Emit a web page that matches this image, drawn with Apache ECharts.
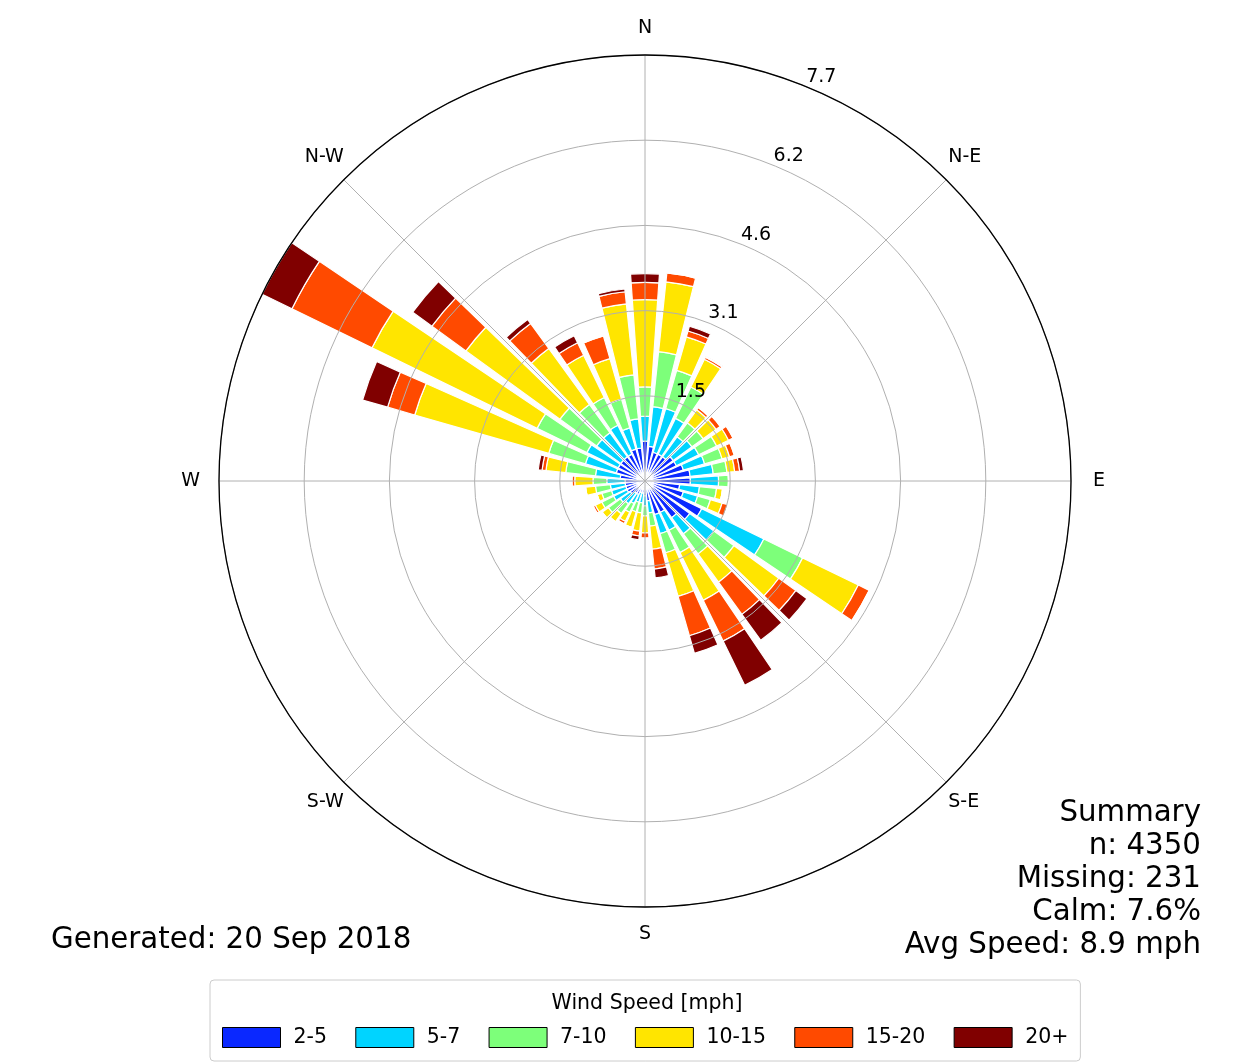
<!DOCTYPE html>
<html>
<head>
<meta charset="utf-8">
<script src="https://cdn.jsdelivr.net/npm/echarts@6/dist/echarts.min.js"></script>
<style>
html,body{margin:0;padding:0;background:#fff;}
#chart{width:1246px;height:1063px;}
</style>
</head>
<body>
<div id="chart"></div>
<script>
// 36 direction bins (degrees clockwise from north), bin centres
const directions = ['0','10','20','30','40','50','60','70','80','90','100','110','120','130','140','150','160','170',
  '180','190','200','210','220','230','240','250','260','270','280','290','300','310','320','330','340','350'];
const compassLabels = ['N','N-E','E','S-E','S','S-W','W','N-W'];
const speedBins = ['2-5','5-7','7-10','10-15','15-20','20+'];
const speedColors = ['#0a28ff','#00d4ff','#7dff7a','#ffe500','#ff4a00','#800000'];

// frequency (%) per direction for each speed bin
const s2_5   = [0.72,0.63,0.54,0.54,0.54,0.63,0.63,0.72,0.82,0.82,0.63,0.72,1.14,1.00,0.82,0.63,0.63,0.36,
                0.27,0.22,0.22,0.27,0.27,0.33,0.36,0.36,0.36,0.36,0.45,0.54,0.54,0.54,0.54,0.54,0.60,0.60];
const s5_7   = [0.45,0.72,0.82,0.72,0.45,0.42,0.45,0.40,0.42,0.51,0.36,0.27,1.25,0.54,0.36,0.36,0.36,0.22,
                0.18,0.18,0.18,0.18,0.24,0.22,0.27,0.27,0.27,0.33,0.45,0.58,0.63,0.54,0.54,0.58,0.40,0.53];
const s7_10  = [0.53,1.00,0.72,0.63,0.31,0.25,0.36,0.33,0.25,0.18,0.31,0.24,0.78,0.45,0.45,0.45,0.36,0.24,
                0.18,0.18,0.18,0.18,0.22,0.27,0.24,0.18,0.27,0.25,0.54,0.69,1.00,0.82,0.63,0.56,0.54,0.80];
const s10_15 = [1.58,1.27,0.63,0.56,0.29,0.29,0.24,0.14,0.14,0.00,0.11,0.22,1.12,1.00,0.63,0.96,0.82,0.42,
                0.31,0.33,0.29,0.18,0.18,0.14,0.13,0.09,0.18,0.33,0.36,2.52,3.32,2.10,1.25,0.85,0.76,1.29];
const s15_20 = [0.31,0.16,0.11,0.04,0.05,0.09,0.09,0.09,0.09,0.00,0.00,0.11,0.22,0.38,0.72,0.82,0.74,0.36,
                0.09,0.09,0.00,0.05,0.00,0.00,0.04,0.00,0.00,0.05,0.07,0.51,1.61,0.76,0.56,0.25,0.43,0.22];
const s20p   = [0.16,0.00,0.09,0.02,0.00,0.00,0.00,0.00,0.07,0.00,0.00,0.00,0.00,0.25,0.58,0.89,0.33,0.16,
                0.00,0.07,0.00,0.00,0.00,0.00,0.00,0.00,0.00,0.00,0.07,0.47,0.60,0.43,0.09,0.14,0.00,0.05];
const speedSeries = [s2_5, s5_7, s7_10, s10_15, s15_20, s20p];

const rMax = 7.7;
const rInterval = 1.54;
const summaryLines = ['Summary','n: 4350','Missing: 231','Calm: 7.6%','Avg Speed: 8.9 mph'];
const generatedText = 'Generated: 20 Sep 2018';
const legendTitle = 'Wind Speed [mph]';

const FONT = 'DejaVu Sans';
const center = [645, 481];
const radius = 426;
const richKeys = ['n','ne','e','se','s','sw','w','nw'];

const chart = echarts.init(document.getElementById('chart'), null, {renderer: 'canvas'});

const option = {
  backgroundColor: '#ffffff',
  textStyle: {fontFamily: FONT, color: '#000'},
  animation: false,
  title: [
    {text: legendTitle, left: 642, top: 988, textAlign: 'center',
     textStyle: {fontFamily: FONT, fontSize: 20.5, fontWeight: 'normal', color: '#000'}},
    {text: generatedText, left: 46, top: 921,
     textStyle: {fontFamily: FONT, fontSize: 29.3, fontWeight: 'normal', color: '#000'}},
    {text: summaryLines.join('\n'), left: 1196, top: 792, textAlign: 'right',
     textStyle: {fontFamily: FONT, fontSize: 29.3, lineHeight: 33, fontWeight: 'normal', color: '#000'}}
  ],
  legend: {
    data: speedBins,
    left: 210, top: 980,
    orient: 'horizontal',
    padding: [47, 12, 13, 12],
    borderColor: '#cccccc', borderWidth: 1, borderRadius: 4,
    backgroundColor: '#ffffff',
    itemWidth: 58, itemHeight: 20, itemGap: 28.3,
    icon: 'rect',
    itemStyle: {borderColor: '#000', borderWidth: 1},
    textStyle: {fontFamily: FONT, fontSize: 20.5, color: '#000', padding: [0, 0, 0, 8]},
    selectedMode: false
  },
  polar: [
    {center: center, radius: radius},
    {center: center, radius: radius},
    {center: center, radius: radius}
  ],
  angleAxis: [
    {polarIndex: 0, type: 'value', min: 0, max: 360, interval: 45, startAngle: 90, clockwise: true, z: 10,
     axisLine: {show: true, lineStyle: {color: '#000', width: 1.3}},
     axisTick: {show: false},
     splitLine: {show: true, lineStyle: {color: '#b0b0b0', width: 1}},
     axisLabel: {show: true, margin: 0, fontFamily: FONT, fontSize: 19, color: '#000',
       formatter: function (v) {
         if (v >= 360) return '';
         const k = Math.round(v / 45);
         return '{' + richKeys[k] + '|' + compassLabels[k] + '}';
       },
       rich: {
         n:  {fontFamily: FONT, fontSize: 19, color: '#000', padding: [0, 0, 17, 0]},
         ne: {fontFamily: FONT, fontSize: 19, color: '#000', padding: [0, 0, 13, 2]},
         e:  {fontFamily: FONT, fontSize: 19, color: '#000', padding: [0, 0, 0, 22]},
         se: {fontFamily: FONT, fontSize: 19, color: '#000', padding: [10, 0, 0, 2]},
         s:  {fontFamily: FONT, fontSize: 19, color: '#000', padding: [18, 0, 0, 0]},
         sw: {fontFamily: FONT, fontSize: 19, color: '#000', padding: [10, 0, 0, 0]},
         w:  {fontFamily: FONT, fontSize: 19, color: '#000', padding: [0, 19, 0, 0]},
         nw: {fontFamily: FONT, fontSize: 19, color: '#000', padding: [0, 0, 13, 0]}
       }}
    },
    {polarIndex: 1, type: 'value', min: 0, max: 360, startAngle: 67.5, clockwise: true, show: false},
    {polarIndex: 2, type: 'category', data: directions, startAngle: 95, clockwise: true, show: false,
     boundaryGap: true}
  ],
  radiusAxis: [
    {polarIndex: 0, type: 'value', min: 0, max: rMax, interval: rInterval, z: 10,
     axisLine: {show: false}, axisTick: {show: false}, axisLabel: {show: false},
     splitLine: {show: true, lineStyle: {color: '#b0b0b0', width: 1}}},
    {polarIndex: 1, type: 'value', min: 0, max: rMax, interval: rInterval, z: 11,
     axisLine: {show: false}, axisTick: {show: false}, splitLine: {show: false},
     axisLabel: {show: true, margin: 2, rotate: 0, align: 'left', verticalAlign: 'bottom',
       fontFamily: FONT, fontSize: 19, color: '#000',
       formatter: function (v) { return v === 0 ? '' : v.toFixed(1); }}},
    {polarIndex: 2, type: 'value', min: 0, max: rMax, show: false}
  ],
  series: speedBins.map(function (name, i) {
    return {
      name: name,
      type: 'bar',
      coordinateSystem: 'polar',
      polarIndex: 2,
      stack: 'wind',
      barCategoryGap: '20%',
      data: speedSeries[i],
      itemStyle: {color: speedColors[i], borderColor: '#ffffff', borderWidth: 1.2},
      emphasis: {disabled: true},
      z: 2
    };
  })
};

chart.setOption(option);
</script>
</body>
</html>
